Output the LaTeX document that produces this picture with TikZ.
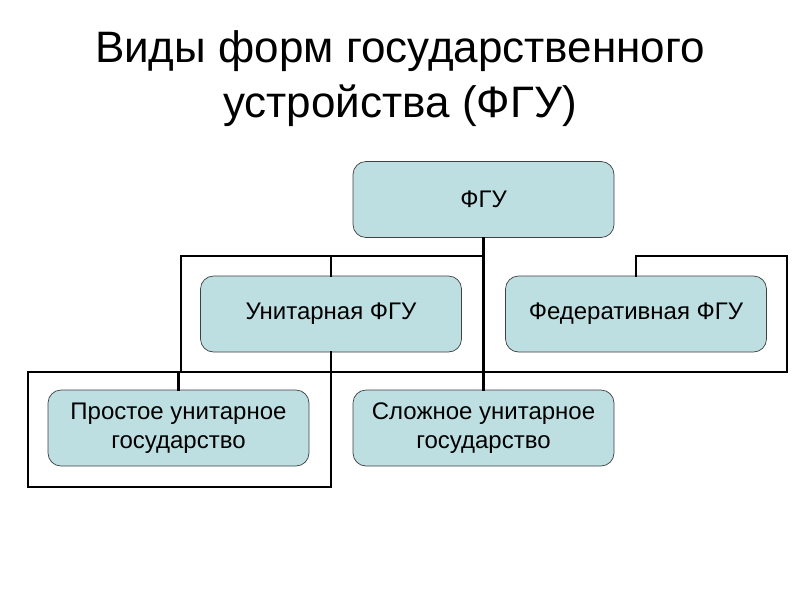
\documentclass[tikz,border=0pt]{standalone}
\usepackage{fontspec}
\setmainfont{Liberation Sans}
\definecolor{boxfill}{RGB}{189,223,225}
\begin{document}
\begin{tikzpicture}[x=1pt,y=-1pt,
  box/.style={draw=black!75, line width=0.7pt, fill=boxfill, rounded corners=13pt,
    minimum width=261pt, minimum height=76pt, inner sep=0pt, align=center,
    font=\fontsize{24}{29.5}\selectfont},
  conn/.style={line width=2.2pt, line cap=rect}]
\useasboundingbox (0,0) rectangle (800,600);
\node[align=center, font=\fontsize{44}{55}\selectfont] (title) at (400,79)
  {Виды форм государственного\\устройства (ФГУ)};
\node[box] (fgu) at (483.5,199.5) {\raisebox{-2pt}{ФГУ}};
\node[box] (uni) at (331,314) {\raisebox{-3pt}{Унитарная ФГУ}};
\node[box] (fed) at (636,314) {\raisebox{-3pt}{Федеративная ФГУ}};
\node[box] (prost) at (178.5,428) {Простое унитарное\\государство};
\node[box] (slozh) at (483.5,428) {Сложное унитарное\\государство};
\coordinate (L1) at (181,256);
\coordinate (L2) at (181,372);
\coordinate (R1) at (fgu.south |- L1);
\coordinate (H1) at (28,372);
\coordinate (H2) at (787,372);
\coordinate (B1) at (28,487);
\coordinate (B2) at (uni.south |- B1);
\draw[conn] (fgu.south) -- (slozh.north);
\draw[conn] (R1) -- (L1) -- (L2);
\draw[conn] (H1) -- (H2);
\draw[conn] (H1) -- (B1) -- (B2) -- (uni.south);
\draw[conn] (uni.north) -- (uni.north |- L1);
\draw[conn] (prost.north) -- (prost.north |- H1);
\draw[conn] (fed.north) -- (fed.north |- L1) -- (H2 |- L1) -- (H2);
\end{tikzpicture}
\end{document}
